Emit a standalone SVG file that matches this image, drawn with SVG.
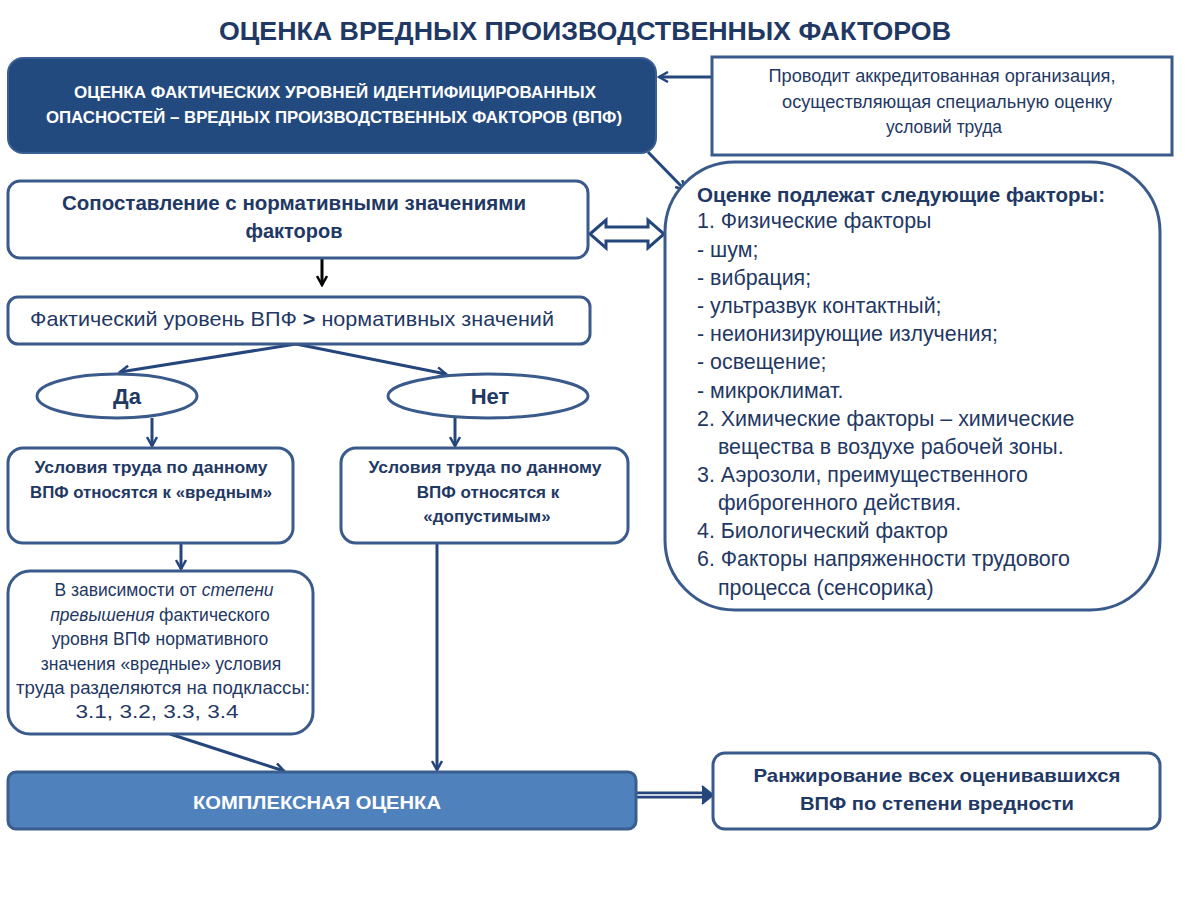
<svg xmlns="http://www.w3.org/2000/svg" width="1200" height="900" viewBox="0 0 1200 900">
<style>
.box{fill:#fff;stroke:#3a5a8c;stroke-width:3}
.t{font-family:"Liberation Sans",Arial,sans-serif;fill:#1f3864}
.b{font-weight:bold}
.w{fill:#fff}
.c{text-anchor:middle}
.ln{stroke:#24467c;stroke-width:3;fill:none}
</style>
<defs>
<marker id="ah" viewBox="0 0 12 12" refX="10" refY="6" markerWidth="12" markerHeight="12" markerUnits="userSpaceOnUse" orient="auto">
<path d="M1,1 L10,6 L1,11" fill="none" stroke="#24467c" stroke-width="2.5"/>
</marker>
<marker id="ahk" viewBox="0 0 12 12" refX="10" refY="6" markerWidth="12" markerHeight="12" markerUnits="userSpaceOnUse" orient="auto">
<path d="M1,1 L10,6 L1,11" fill="none" stroke="#000" stroke-width="2.5"/>
</marker>
</defs>
<rect width="1200" height="900" fill="#fff"/>
<text class="t b c" x="585" y="40" font-size="26" textLength="732" lengthAdjust="spacingAndGlyphs">ОЦЕНКА ВРЕДНЫХ ПРОИЗВОДСТВЕННЫХ ФАКТОРОВ</text>

<g id="connectors">
<line class="ln" x1="711" y1="77" x2="659" y2="77" marker-end="url(#ah)"/>
<line class="ln" x1="648" y1="152" x2="685" y2="190" marker-end="url(#ah)"/>
<path d="M590,234 L606,220 L606,227 L648,227 L648,220 L664,234 L648,248 L648,241 L606,241 L606,248 Z" fill="#fff" stroke="#24467c" stroke-width="3" stroke-linejoin="miter"/>
<line x1="322" y1="259" x2="322" y2="285" stroke="#000" stroke-width="3" marker-end="url(#ahk)"/>
<line class="ln" x1="296" y1="344" x2="120" y2="372" marker-end="url(#ah)"/>
<line class="ln" x1="296" y1="344" x2="446" y2="374" marker-end="url(#ah)"/>
<line class="ln" x1="152" y1="418" x2="152" y2="446" marker-end="url(#ah)"/>
<line class="ln" x1="455" y1="418" x2="455" y2="446" marker-end="url(#ah)"/>
<line class="ln" x1="181" y1="544" x2="181" y2="569" marker-end="url(#ah)"/>
<line class="ln" x1="437" y1="544" x2="437" y2="770" marker-end="url(#ah)"/>
<line class="ln" x1="170" y1="734" x2="284" y2="771" marker-end="url(#ah)"/>
<line x1="637" y1="795" x2="704" y2="795" stroke="#24467c" stroke-width="7"/>
<line x1="637" y1="795" x2="704" y2="795" stroke="#fff" stroke-width="1.5"/>
<path d="M702,786 L713,795 L702,804" fill="#24467c" stroke="#24467c" stroke-width="2"/>
</g>

<g id="n-top">
<rect x="8" y="58" width="648" height="95" rx="15" fill="#234a7f" stroke="#3a5f95" stroke-width="2"/>
<text class="t b w c" x="335" y="98" font-size="16.5" textLength="522" lengthAdjust="spacingAndGlyphs">ОЦЕНКА ФАКТИЧЕСКИХ УРОВНЕЙ ИДЕНТИФИЦИРОВАННЫХ</text>
<text class="t b w c" x="334" y="123" font-size="16.5" textLength="576" lengthAdjust="spacingAndGlyphs">ОПАСНОСТЕЙ – ВРЕДНЫХ ПРОИЗВОДСТВЕННЫХ ФАКТОРОВ (ВПФ)</text>
</g>

<g id="n-org">
<rect class="box" x="712" y="57" width="460" height="98"/>
<g class="t c" font-size="17.5" fill="#2b3a55">
<text x="942" y="82" textLength="347" lengthAdjust="spacingAndGlyphs">Проводит аккредитованная организация,</text>
<text x="947" y="108" textLength="330" lengthAdjust="spacingAndGlyphs">осуществляющая специальную оценку</text>
<text x="944" y="133" textLength="116" lengthAdjust="spacingAndGlyphs">условий труда</text>
</g>
</g>

<g id="n-factors">
<rect class="box" x="665" y="162" width="495" height="448" rx="70"/>
<text class="t b" x="697" y="202" font-size="20" textLength="408" lengthAdjust="spacingAndGlyphs">Оценке подлежат следующие факторы:</text>
<g class="t" font-size="21.4">
<text x="697" y="228">1. Физические факторы</text>
<text x="697" y="257">- шум;</text>
<text x="697" y="285">- вибрация;</text>
<text x="697" y="313">- ультразвук контактный;</text>
<text x="697" y="341">- неионизирующие излучения;</text>
<text x="697" y="369">- освещение;</text>
<text x="697" y="398">- микроклимат.</text>
<text x="697" y="426">2. Химические факторы – химические</text>
<text x="718" y="454">вещества в воздухе рабочей зоны.</text>
<text x="697" y="482">3. Аэрозоли, преимущественного</text>
<text x="718" y="510">фиброгенного действия.</text>
<text x="697" y="538">4. Биологический фактор</text>
<text x="697" y="566">6. Факторы напряженности трудового</text>
<text x="718" y="595">процесса (сенсорика)</text>
</g>
</g>

<g id="n-compare">
<rect class="box" x="8" y="181" width="580" height="77" rx="12"/>
<text class="t b c" x="294" y="210" font-size="20" textLength="464" lengthAdjust="spacingAndGlyphs">Сопоставление с нормативными значениями</text>
<text class="t b c" x="294" y="238" font-size="20">факторов</text>
</g>

<g id="n-actual">
<rect class="box" x="8" y="297" width="582" height="47" rx="10"/>
<text class="t" x="30" y="326" font-size="21" textLength="524" lengthAdjust="spacingAndGlyphs">Фактический уровень ВПФ <tspan font-weight="bold">&gt;</tspan> нормативных значений</text>
</g>

<g id="n-yes">
<ellipse class="box" cx="117" cy="396" rx="80" ry="22"/>
<text class="t b c" x="127" y="404" font-size="22">Да</text>
</g>
<g id="n-no">
<ellipse class="box" cx="488" cy="396" rx="100" ry="22"/>
<text class="t b c" x="490" y="404" font-size="22">Нет</text>
</g>

<g id="n-harmful">
<rect class="box" x="8" y="448" width="285" height="95" rx="15"/>
<g class="t b c" font-size="17">
<text x="151" y="473" textLength="233" lengthAdjust="spacingAndGlyphs">Условия труда по данному</text>
<text x="151" y="498" textLength="242" lengthAdjust="spacingAndGlyphs">ВПФ относятся к «вредным»</text>
</g>
</g>

<g id="n-allowed">
<rect class="box" x="341" y="448" width="287" height="95" rx="15"/>
<g class="t b c" font-size="17">
<text x="485" y="473" textLength="233" lengthAdjust="spacingAndGlyphs">Условия труда по данному</text>
<text x="488" y="498">ВПФ относятся к</text>
<text x="487" y="522">«допустимым»</text>
</g>
</g>

<g id="n-subclass">
<rect class="box" x="8" y="571" width="305" height="163" rx="22"/>
<g class="t c" font-size="17.5">
<text x="164" y="596">В зависимости от <tspan font-style="italic">степени</tspan></text>
<text x="160" y="621"><tspan font-style="italic">превышения</tspan> фактического</text>
<text x="160" y="645">уровня ВПФ нормативного</text>
<text x="161" y="670">значения «вредные» условия</text>
<text x="163" y="694" textLength="294" lengthAdjust="spacingAndGlyphs">труда разделяются на подклассы:</text>
<text x="157" y="718" textLength="163" lengthAdjust="spacingAndGlyphs">3.1, 3.2, 3.3, 3.4</text>
</g>
</g>

<g id="n-complex">
<rect x="8" y="772" width="628" height="57" rx="8" fill="#4f81bd" stroke="#3a5f8f" stroke-width="3"/>
<text class="t b w c" x="317" y="809" font-size="19" textLength="248" lengthAdjust="spacingAndGlyphs">КОМПЛЕКСНАЯ ОЦЕНКА</text>
</g>

<g id="n-rank">
<rect class="box" x="713" y="753" width="447" height="76" rx="12"/>
<text class="t b c" x="937" y="782" font-size="19" textLength="367" lengthAdjust="spacingAndGlyphs">Ранжирование всех оценивавшихся</text>
<text class="t b c" x="937" y="810" font-size="19" textLength="274" lengthAdjust="spacingAndGlyphs">ВПФ по степени вредности</text>
</g>
</svg>
